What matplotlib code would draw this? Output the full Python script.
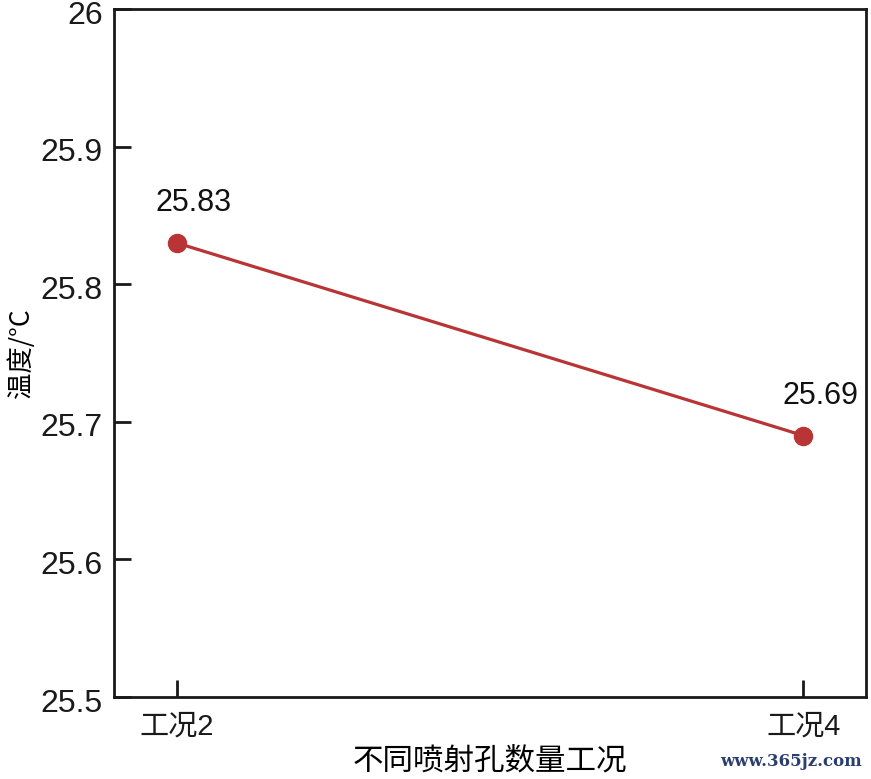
import matplotlib
matplotlib.use("Agg")
import matplotlib.pyplot as plt
from matplotlib.transforms import ScaledTranslation

categories = ["工况2", "工况4"]
values = [25.83, 25.69]
labels = ["25.83", "25.69"]
yticks = [25.5, 25.6, 25.7, 25.8, 25.9, 26.0]
ytick_labels = ["25.5", "25.6", "25.7", "25.8", "25.9", "26"]

plt.rcParams['font.family'] = ['Liberation Sans', 'Noto Sans CJK SC', 'DejaVu Sans']

fig = plt.figure(figsize=(8.71, 7.79), dpi=100)
ax = fig.add_axes([114/871, 82/779, 752/871, 688/779])

x = list(range(len(categories)))
color = "#B93434"
ax.plot(x, values, color=color, lw=2.3, marker='o', markersize=13, zorder=3)
for xi, v, t in zip(x, values, labels):
    ax.annotate(t, (xi, v), xytext=(17, 25), textcoords='offset pixels',
                ha='center', va='bottom', fontsize=22, color='#111111')

ax.set_xlim(-0.1, 1.1)
ax.set_ylim(25.5, 26.0)
ax.set_yticks(yticks)
ax.set_yticklabels(ytick_labels, fontsize=23, color='#111111')
ax.set_xticks(x)
ax.set_xticklabels(categories, fontsize=21, family=['Liberation Sans', 'Noto Sans CJK SC', 'DejaVu Sans'])
for s in ax.spines.values():
    s.set_linewidth(2.0)
    s.set_color('#1a1a1a')
ax.tick_params(axis='both', direction='in', length=12, width=2.0, colors='#1a1a1a')
ax.tick_params(axis='y', pad=8)
ax.tick_params(axis='x', pad=11)

shift = ScaledTranslation(0, -3/100, fig.dpi_scale_trans)
for lbl in ax.get_yticklabels():
    lbl.set_transform(lbl.get_transform() + shift)

ax.set_ylabel("温度/°C", fontsize=19, family=['Noto Sans CJK SC', 'DejaVu Sans'], labelpad=4)
ax.set_xlabel("不同喷射孔数量工况", fontsize=22, family=['Noto Sans CJK SC', 'DejaVu Sans'], labelpad=4)

fig.text(0.99, 0.012, "www.365jz.com", ha='right', va='bottom', fontsize=12,
         color='#2a3f6e', family=['DejaVu Serif'], weight='bold')

fig.savefig("out.png", dpi=100)
